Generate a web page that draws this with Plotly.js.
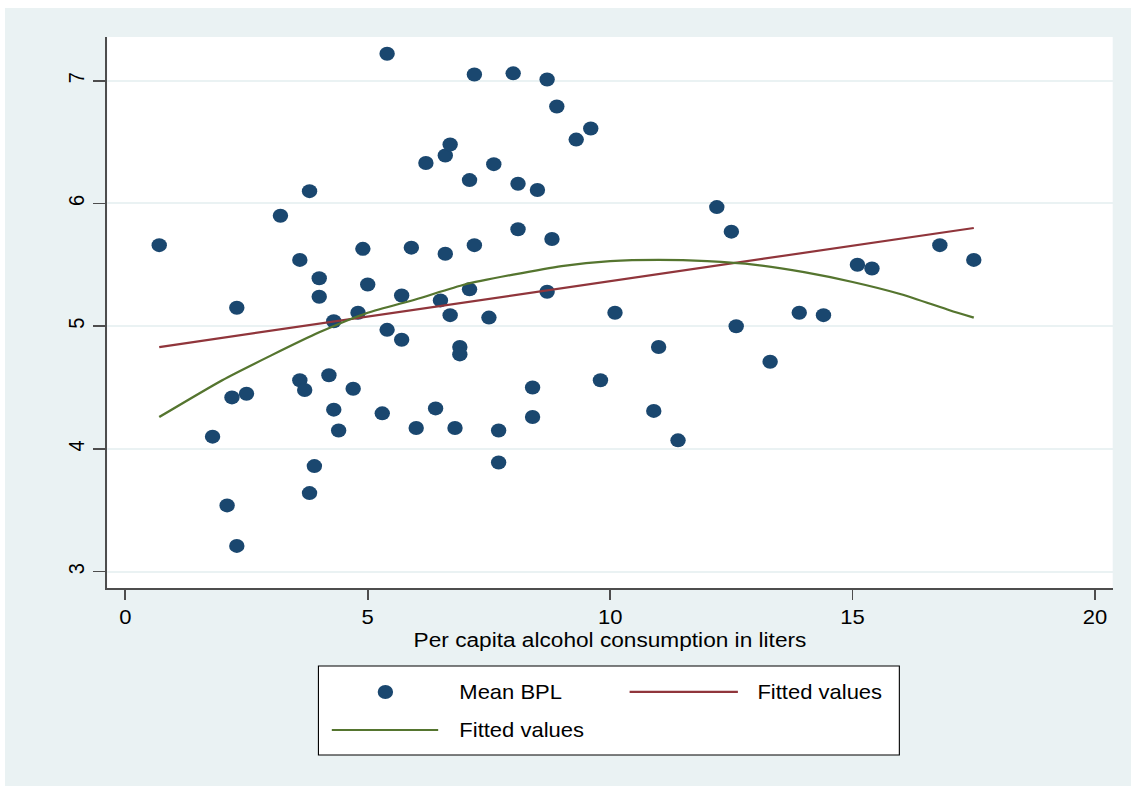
<!DOCTYPE html>
<html>
<head>
<meta charset="utf-8">
<script src="https://cdn.plot.ly/plotly-3.0.1.min.js"></script>
<style>
  html, body { margin: 0; padding: 0; background: #ffffff; overflow: hidden; }
  body { width: 1131px; height: 787px; position: relative; }
  /* graph region, widened slightly as in the exported figure */
  #chart { position: absolute; left: 5px; top: 8px; width: 1024px; height: 778px;
           transform: scaleX(1.1); transform-origin: 0 0; }
</style>
</head>
<body>
<div id="chart"></div>
<script>
// Per capita alcohol consumption (liters) and mean BPL, one point per unit
const alcohol = [0.7, 1.8, 2.1, 2.2, 2.3, 2.3, 2.5, 3.2, 3.6, 3.6, 3.7, 3.8, 3.8, 3.9, 4.0, 4.0,
  4.2, 4.3, 4.3, 4.4, 4.7, 4.8, 4.9, 5.0, 5.3, 5.4, 5.4, 5.7, 5.7, 5.9, 6.0, 6.2, 6.4, 6.5,
  6.6, 6.6, 6.7, 6.7, 6.8, 6.9, 6.9, 7.1, 7.1, 7.2, 7.2, 7.5, 7.6, 7.7, 7.7, 8.0, 8.1, 8.1,
  8.4, 8.4, 8.5, 8.7, 8.7, 8.8, 8.9, 9.3, 9.6, 9.8, 10.1, 10.9, 11.0, 11.4, 12.2, 12.5, 12.6,
  13.3, 13.9, 14.4, 15.1, 15.4, 16.8, 17.5];
const meanBPL = [5.66, 4.10, 3.54, 4.42, 3.21, 5.15, 4.45, 5.90, 5.54, 4.56, 4.48, 6.10, 3.64, 3.86, 5.39, 5.24,
  4.60, 5.04, 4.32, 4.15, 4.49, 5.11, 5.63, 5.34, 4.29, 4.97, 7.22, 5.25, 4.89, 5.64, 4.17, 6.33, 4.33, 5.21,
  5.59, 6.39, 6.48, 5.09, 4.17, 4.83, 4.77, 5.30, 6.19, 7.05, 5.66, 5.07, 6.32, 4.15, 3.89, 7.06, 6.16, 5.79,
  4.50, 4.26, 6.11, 7.01, 5.28, 5.71, 6.79, 6.52, 6.61, 4.56, 5.11, 4.31, 4.83, 4.07, 5.97, 5.77, 5.00,
  4.71, 5.11, 5.09, 5.50, 5.47, 5.66, 5.54];

// Linear fit
const linFitX = [0.7, 17.5];
const linFitY = [4.83, 5.80];

// Quadratic fit
const quadFitX = [0.7, 2, 3, 4, 5, 6, 7, 8, 9, 10, 11, 12, 13, 14, 15, 16, 17, 17.5];
const quadFitY = [4.26, 4.56, 4.76, 4.95, 5.11, 5.22, 5.34, 5.42, 5.49, 5.53, 5.54, 5.53, 5.50, 5.44, 5.36, 5.26, 5.13, 5.07];

// Axis ticks and labels
const xTicks = [0, 5, 10, 15, 20];
const yTicks = [3, 4, 5, 6, 7];
const xTitle = 'Per capita alcohol consumption in liters';
const legendLabels = ['Mean BPL', 'Fitted values', 'Fitted values'];

const NAVY = '#1a476f', MAROON = '#90353b', FOREST = '#55752f';
const BG = '#eaf2f3';
const FONT = 'Liberation Sans, Arial, Helvetica, sans-serif';

const traces = [
  { type: 'scatter', mode: 'markers', x: alcohol, y: meanBPL, name: legendLabels[0],
    marker: { color: NAVY, size: 14, line: { width: 0 } }, cliponaxis: false },
  { type: 'scatter', mode: 'lines', x: linFitX, y: linFitY, name: legendLabels[1],
    line: { color: MAROON, width: 2.2 } },
  { type: 'scatter', mode: 'lines', x: quadFitX, y: quadFitY, name: legendLabels[2],
    line: { color: FOREST, width: 2.2, shape: 'spline', smoothing: 0.6 } }
];

// Key box below the plot, laid out in two rows
const ann = (x, y, text) => ({ xref: 'paper', yref: 'paper', x: x, y: y, text: text,
  showarrow: false, xanchor: 'left', yanchor: 'middle',
  font: { family: FONT, size: 20, color: '#000' } });
const row1 = -0.1887, row2 = -0.2577;

const layout = {
  width: 1024, height: 778,
  margin: { l: 93, r: 17, t: 29, b: 198 },
  paper_bgcolor: BG, plot_bgcolor: '#ffffff',
  showlegend: false,
  font: { family: FONT, size: 20, color: '#000' },
  xaxis: {
    range: [-0.371, 20.365], tickvals: xTicks, ticktext: xTicks.map(String),
    showgrid: false, zeroline: false,
    showline: true, linecolor: '#4d4d4d', linewidth: 1.8,
    ticks: 'outside', ticklen: 10, tickwidth: 1.6, tickcolor: '#4d4d4d',
    tickfont: { family: FONT, size: 20, color: '#000' },
    title: { text: xTitle, font: { family: FONT, size: 20.6, color: '#000' }, standoff: 6 }
  },
  yaxis: {
    range: [2.867, 7.356], tickvals: yTicks, ticktext: yTicks.map(String),
    tickangle: -90,
    showgrid: true, gridcolor: BG, gridwidth: 2, zeroline: false,
    showline: true, linecolor: '#4d4d4d', linewidth: 1.8,
    ticks: 'outside', ticklen: 11, tickwidth: 1.6, tickcolor: '#4d4d4d',
    tickfont: { family: FONT, size: 20, color: '#000' }
  },
  shapes: [
    { type: 'rect', xref: 'paper', yref: 'paper', x0: 0.2100, x1: 0.7878, y0: -0.30309, y1: -0.14156,
      line: { color: '#000', width: 1 }, fillcolor: '#ffffff' },
    { type: 'circle', xref: 'paper', yref: 'paper', xsizemode: 'pixel', ysizemode: 'pixel',
      xanchor: 0.2766, yanchor: row1, x0: -7, x1: 7, y0: -7, y1: 7,
      fillcolor: NAVY, line: { width: 0 } },
    { type: 'line', xref: 'paper', yref: 'paper', x0: 0.5195, x1: 0.6272, y0: row1, y1: row1,
      line: { color: MAROON, width: 2.2 } },
    { type: 'line', xref: 'paper', yref: 'paper', x0: 0.2233, x1: 0.3291, y0: row2, y1: row2,
      line: { color: FOREST, width: 2.2 } }
  ],
  annotations: [
    ann(0.3474, row1, legendLabels[0]),
    ann(0.6442, row1, legendLabels[1]),
    ann(0.3474, row2, legendLabels[2])
  ]
};

Plotly.newPlot('chart', traces, layout, { displayModeBar: false, responsive: false, staticPlot: true });
</script>
</body>
</html>
